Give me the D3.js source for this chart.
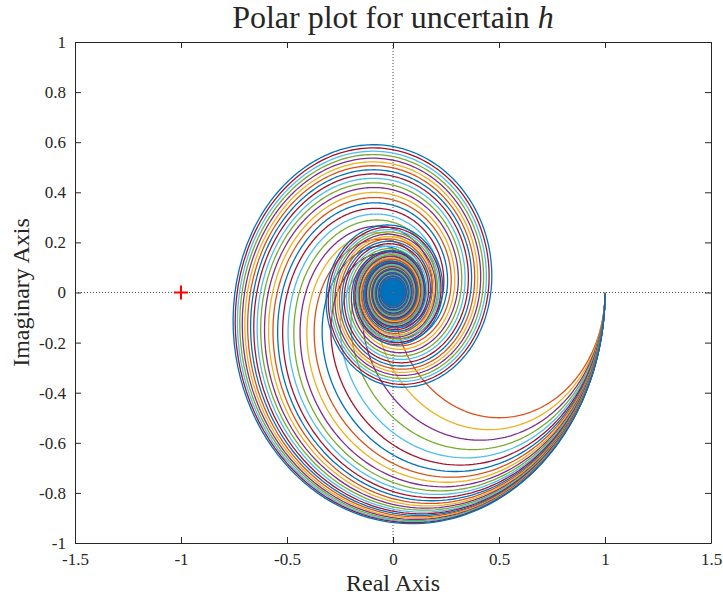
<!DOCTYPE html>
<html>
<head>
<meta charset="utf-8">
<script src="https://cdn.jsdelivr.net/npm/d3@7"></script>
<style>
  body { margin: 0; background: #fff; }
  text { font-family: "Liberation Serif", "Times New Roman", serif; fill: #262626; }
</style>
</head>
<body>
<svg id="chart" width="723" height="598"></svg>
<script>
// delay values for the uncertain h (one curve each)
var hValues = [0, 0.1, 0.2, 0.3, 0.4, 0.5, 0.6, 0.7, 0.8, 0.9, 1.0, 1.1, 1.2, 1.3,
    1.4, 1.5, 1.6, 1.7, 1.8, 1.9, 2.0, 2.1, 2.2, 2.3, 2.4, 2.5, 2.6, 2.7];
// plant G(s) = K e^{-sh} / (tau s + 1)
var plantGain = 1, plantTau = 1;
var criticalPoint = [-1, 0];

var xTicks = [-1.5, -1, -0.5, 0, 0.5, 1, 1.5];
var yTicks = [-1, -0.8, -0.6, -0.4, -0.2, 0, 0.2, 0.4, 0.6, 0.8, 1];
var colorOrder = ["#0072BD", "#D95319", "#EDB120", "#7E2F8E", "#77AC30", "#4DBEEE", "#A2142F"];

var plotL = 75, plotR = 711, plotT = 42, plotB = 543;
var svg = d3.select("#chart");

var x = d3.scaleLinear().domain([-1.5, 1.5]).range([plotL, plotR]);
var y = d3.scaleLinear().domain([-1, 1]).range([plotB, plotT]);

// frequency grid (rad/s)
var omega = d3.range(-3, 0, 0.01).map(function (e) { return Math.pow(10, e); })
    .concat(d3.range(1, 150, 0.01));

function response(h, w) {
    var c = Math.cos(w * h), s = Math.sin(w * h);
    var d = 1 + plantTau * plantTau * w * w;
    return [plantGain * (c - plantTau * w * s) / d, plantGain * (-s - plantTau * w * c) / d];
}

svg.append("clipPath").attr("id", "clip")
    .append("rect").attr("x", plotL).attr("y", plotT)
    .attr("width", plotR - plotL).attr("height", plotB - plotT);

// zero lines
svg.append("line").attr("x1", plotL).attr("x2", plotR).attr("y1", y(0)).attr("y2", y(0))
    .attr("stroke", "#555").attr("stroke-width", 1).attr("stroke-dasharray", "1,2");
svg.append("line").attr("x1", x(0)).attr("x2", x(0)).attr("y1", plotT).attr("y2", plotB)
    .attr("stroke", "#555").attr("stroke-width", 1).attr("stroke-dasharray", "1,2");

var line = d3.line()
    .x(function (p) { return x(p[0]); })
    .y(function (p) { return y(p[1]); });

var g = svg.append("g").attr("clip-path", "url(#clip)");
hValues.forEach(function (h, i) {
    var pts = omega.map(function (w) { return response(h, w); });
    g.append("path")
        .attr("d", line(pts))
        .attr("fill", "none")
        .attr("stroke", colorOrder[(i + 1) % colorOrder.length])
        .attr("stroke-width", 1.3);
});

// critical point marker
var cx = x(criticalPoint[0]), cy = y(criticalPoint[1]);
svg.append("path")
    .attr("d", "M" + (cx - 7) + "," + cy + "H" + (cx + 7) + "M" + cx + "," + (cy - 7) + "V" + (cy + 7))
    .attr("stroke", "#FF0000").attr("stroke-width", 2).attr("fill", "none");

// axes box with inward ticks
var axisColor = "#262626";
var xb = svg.append("g").attr("transform", "translate(0," + plotB + ")")
    .call(d3.axisBottom(x).tickValues(xTicks).tickSizeInner(-6).tickSizeOuter(0).tickPadding(10)
        .tickFormat(function (d) { return String(d); }));
var xt = svg.append("g").attr("transform", "translate(0," + plotT + ")")
    .call(d3.axisTop(x).tickValues(xTicks).tickSizeInner(-6).tickSizeOuter(0).tickFormat(""));
var yl = svg.append("g").attr("transform", "translate(" + plotL + ",0)")
    .call(d3.axisLeft(y).tickValues(yTicks).tickSizeInner(-6).tickSizeOuter(0).tickPadding(9)
        .tickFormat(function (d) { return String(d); }));
var yr = svg.append("g").attr("transform", "translate(" + plotR + ",0)")
    .call(d3.axisRight(y).tickValues(yTicks).tickSizeInner(-6).tickSizeOuter(0).tickFormat(""));

[xb, xt, yl, yr].forEach(function (a) {
    a.attr("font-family", "Liberation Serif").attr("font-size", 17);
    a.selectAll("path, line").attr("stroke", axisColor).attr("stroke-width", 1);
    a.selectAll("text").attr("fill", axisColor);
});

svg.append("text").attr("x", (plotL + plotR) / 2).attr("y", 591)
    .attr("text-anchor", "middle").style("font-size", "24px").text("Real Axis");
svg.append("text").attr("transform", "translate(29," + (plotT + plotB) / 2 + ") rotate(-90)")
    .attr("text-anchor", "middle").style("font-size", "24px").text("Imaginary Axis");

var title = svg.append("text").attr("x", (plotL + plotR) / 2).attr("y", 28)
    .attr("text-anchor", "middle").style("font-size", "32px");
title.append("tspan").text("Polar plot for uncertain ");
title.append("tspan").style("font-style", "italic").text("h");
</script>
</body>
</html>
